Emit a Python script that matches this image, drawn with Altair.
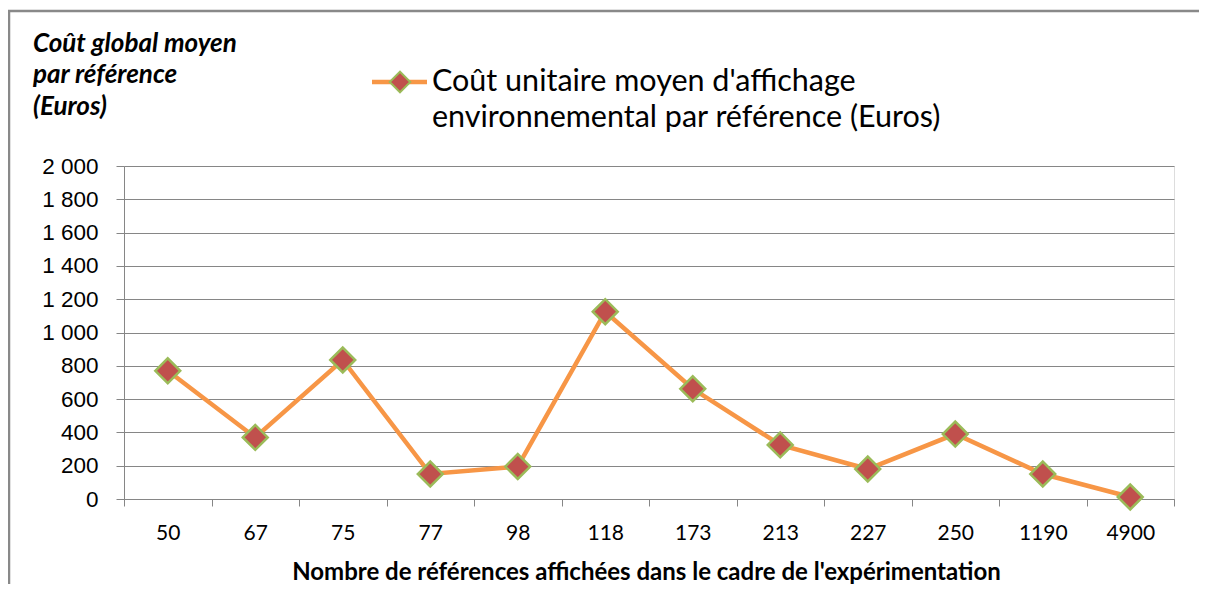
import altair as alt
import pandas as pd

categories = ["50", "67", "75", "77", "98", "118", "173", "213", "227", "250", "1190", "4900"]
values = [770, 370, 835, 150, 195, 1125, 662, 325, 180, 390, 150, 12]
y_ticks = [0, 200, 400, 600, 800, 1000, 1200, 1400, 1600, 1800, 2000]

series_name = "Coût unitaire moyen d'affichage environnemental par référence (Euros)"
legend_lines = ["Coût unitaire moyen d'affichage", "environnemental par référence (Euros)"]
y_title_lines = ["Coût global moyen", "par référence", "(Euros)"]
x_title = "Nombre de références affichées dans le cadre de l'expérimentation"

df = pd.DataFrame({"cat": categories, "val": values, "serie": series_name})

W, H = 1050, 333
LINE_COLOR = "#F79646"
FILL = "#C0504D"
EDGE = "#9BBB59"
GRID = "#868686"

x_enc = alt.X(
    "cat:N",
    sort=categories,
    bandPosition=0.5,
    scale=alt.Scale(type="band", paddingInner=0, paddingOuter=0),
    axis=alt.Axis(
        title=x_title,
        titleFont="Lato",
        titleFontSize=24,
        titleFontWeight="bold",
        titleColor="#000000",
        titleBaseline="alphabetic",
        titleAlign="center",
        titleX=522,
        titleY=80,
        labelAngle=0,
        labelFont="Lato",
        labelFontSize=21,
        labelColor="#000000",
        labelPadding=16,
        tickBand="extent",
        tickSize=7,
        tickColor=GRID,
        domainColor=GRID,
        domainWidth=1,
        grid=False,
    ),
)
y_enc = alt.Y(
    "val:Q",
    scale=alt.Scale(domain=[0, 2000], nice=False),
    axis=alt.Axis(
        title=None,
        values=y_ticks,
        labelExpr="replace(format(datum.value, ',d'), ',', ' ')",
        labelFont="Liberation Sans",
        labelFontSize=22.5,
        labelColor="#000000",
        labelPadding=18,
        tickSize=8,
        tickColor=GRID,
        domainColor=GRID,
        gridColor=GRID,
        gridWidth=1,
        grid=True,
    ),
)

line = alt.Chart(df).mark_line(color=LINE_COLOR, strokeWidth=4.5).encode(x=x_enc, y=y_enc)
points = alt.Chart(df).mark_point(
    shape="diamond", filled=True, fill=FILL, stroke=EDGE, strokeWidth=2.5, size=620, opacity=1
).encode(x=x_enc, y=y_enc)

# legend (manual)
leg_df = pd.DataFrame({"t": [series_name]})
leg_line = alt.Chart(leg_df).mark_rule(color=LINE_COLOR, strokeWidth=4.5).encode(
    x=alt.value(248), x2=alt.value(303), y=alt.value(-84)
)
leg_pt = alt.Chart(leg_df).mark_point(
    shape="diamond", filled=True, fill=FILL, stroke=EDGE, strokeWidth=2, size=420, opacity=1
).encode(x=alt.value(276), y=alt.value(-84))
leg_txt_df = pd.DataFrame({"t": legend_lines, "yy": [-75, -39]})
leg_txt = alt.Chart(leg_txt_df).mark_text(
    align="left", baseline="alphabetic", font="Lato", fontSize=30.5, color="#000000"
).encode(x=alt.value(308), y=alt.Y("yy:Q", scale=None), text="t:N")

# y title (manual, italic bold)
yt_df = pd.DataFrame({"t": y_title_lines, "yy": [-114, -83, -51]})
y_title = alt.Chart(yt_df).mark_text(
    align="left", baseline="alphabetic", font="Lato", fontSize=26,
    fontStyle="italic", fontWeight="bold", color="#000000"
).encode(x=alt.value(-91), y=alt.Y("yy:Q", scale=None), text="t:N")

# outer frame
frame_df = pd.DataFrame({"k": [0]})
frame_top = alt.Chart(frame_df).mark_rule(color="#898989", strokeWidth=2.5).encode(
    x=alt.value(-116), x2=alt.value(1075), y=alt.value(-155)
)
frame_left = alt.Chart(frame_df).mark_rule(color="#898989", strokeWidth=2.5).encode(
    x=alt.value(-115), y=alt.value(-156), y2=alt.value(420)
)

chart = alt.layer(
    frame_top, frame_left, line, points, leg_line, leg_pt, leg_txt, y_title
).properties(
    width=W,
    height=H,
    autosize=alt.AutoSizeParams(type="none"),
    padding={"left": 116, "top": 158, "right": 25, "bottom": 85},
).configure_view(stroke=None).configure(background="#ffffff")

chart.save("out.html", embed_options={"renderer": "svg", "actions": False})
